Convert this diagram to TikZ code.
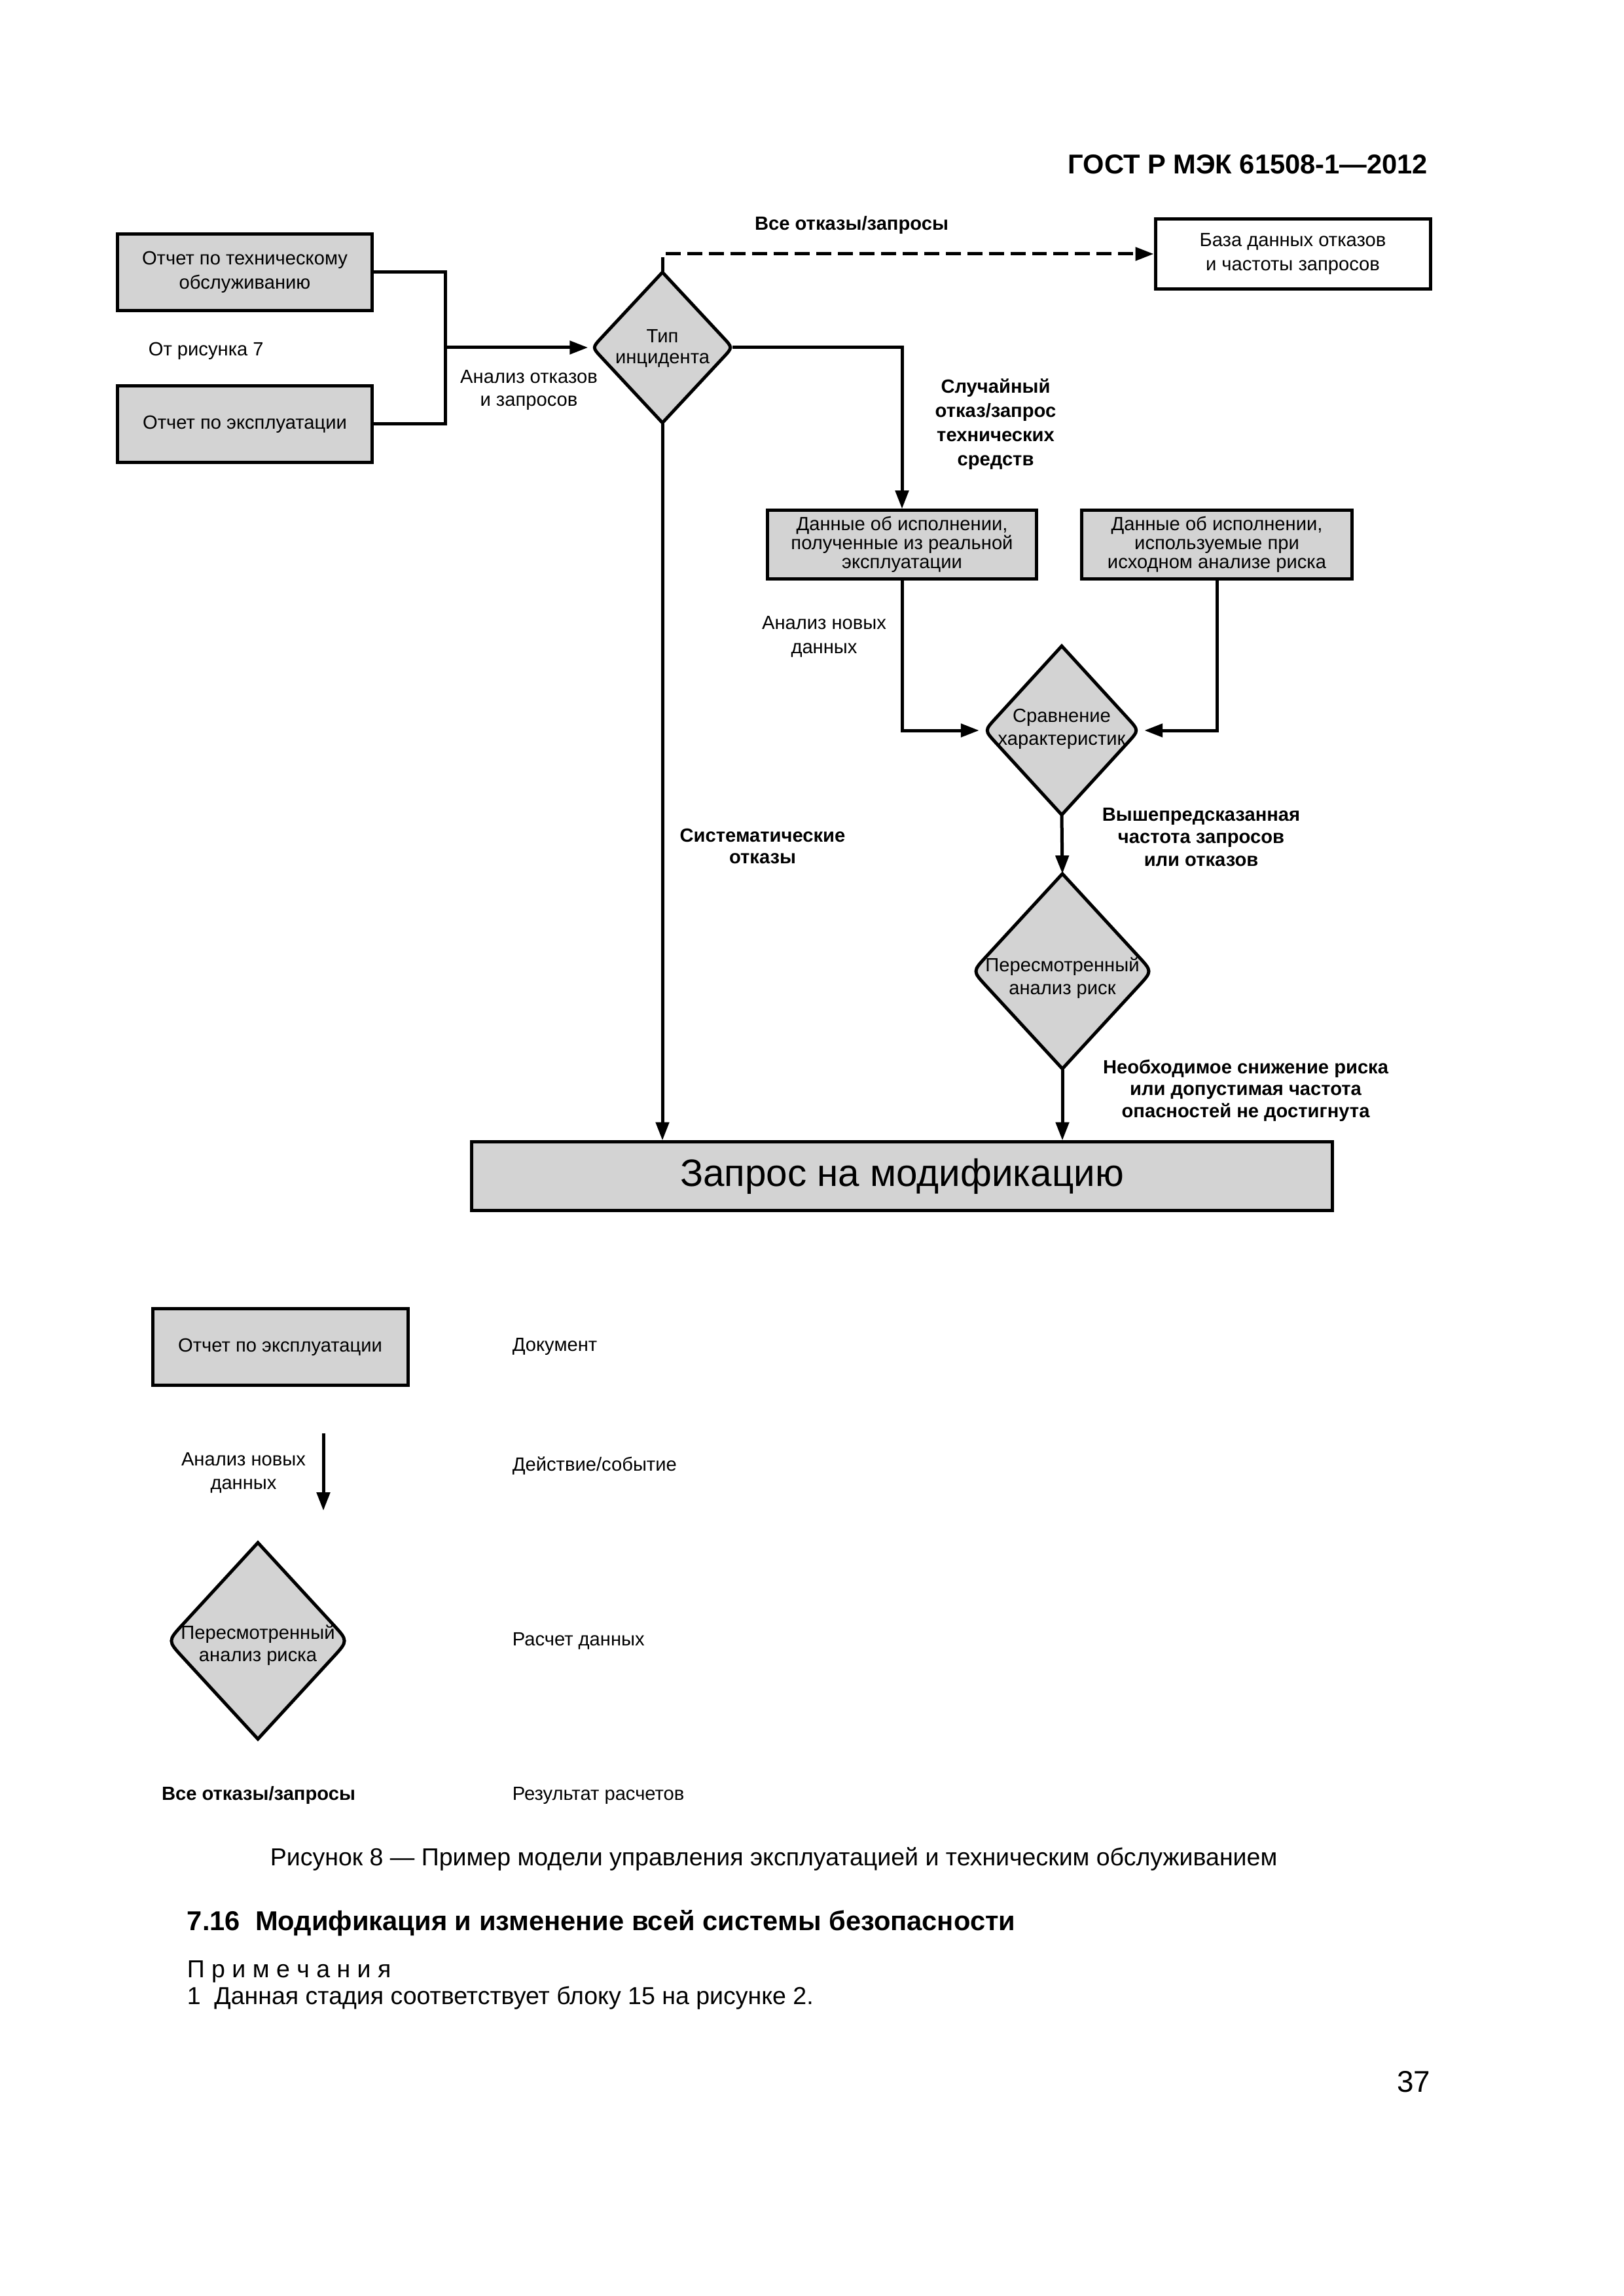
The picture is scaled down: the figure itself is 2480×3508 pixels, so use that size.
\documentclass[tikz,border=0pt]{standalone}
\usepackage{fontspec}
\setmainfont{Liberation Sans}
\usetikzlibrary{shapes}
\usetikzlibrary{positioning}
\usetikzlibrary{arrows.meta}
\usetikzlibrary{calc}
\definecolor{boxgray}{RGB}{211,211,211}
\tikzset{
    docbox/.style = {rectangle, draw=black, line width=1.2pt, fill=boxgray, align=center, inner sep=0pt, font=\fontsize{7}{8.9}\selectfont},
    dbbox/.style = {docbox, fill=white},
    dianode/.style = {diamond, inner sep=0pt, outer sep=0pt},
    diaborder/.style = {draw=black, line width=1.2pt, fill=boxgray},
    lbl/.style = {align=center, inner sep=0pt, font=\fontsize{7}{8.4}\selectfont},
    blbl/.style = {align=center, inner sep=0pt, font=\fontsize{7}{8.4}\selectfont\bfseries},
    edgen/.style = {-{Triangle[length=6.7pt,width=4.8pt]}, line width=1.2pt},
    edged/.style = {edgen, dash pattern=on 5.5pt off 2.4pt}, % all failures
    plainline/.style = {line width=1.2pt}
}
% diamond with rounded left and right corners
\newcommand{\roundia}[2]{%
  \draw[diaborder] (#1.north) -- ($(#1.east)!#2!(#1.north)$) .. controls (#1.east) .. ($(#1.east)!#2!(#1.south)$)
    -- (#1.south) -- ($(#1.west)!#2!(#1.south)$) .. controls (#1.west) .. ($(#1.west)!#2!(#1.north)$) -- cycle;}

\begin{document}
\begin{tikzpicture}[x=0.24pt, y=-0.24pt]
  \useasboundingbox (0,0) rectangle (2480,3508);

  \node[anchor=east, inner sep=0pt, font=\fontsize{10}{12}\selectfont\bfseries] (hdr) at (2182,251) {ГОСТ Р МЭК 61508-1—2012};

  % reports
  \node[docbox, minimum width=93.4pt, minimum height=28.3pt] (mr) at (374,416) {Отчет по техническому\\обслуживанию};
  \node[docbox, minimum width=93.4pt, minimum height=28.3pt] (or) at (374,648) {Отчет по эксплуатации};
  \node[lbl, anchor=west] (fig7) at (226,536) {От рисунка 7};
  \coordinate (jn) at (680,531);

  % incident type
  \node[dianode, minimum width=51.4pt, minimum height=55.2pt] (tip) at (1012,531) {};
  \roundia{tip}{4.8pt}
  \node[lbl, font=\fontsize{7}{7.7}\selectfont] (tipt) at (1012,532) {Тип\\инцидента};
  \node[lbl, font=\fontsize{7}{8.2}\selectfont] (afr) at (808,596) {Анализ отказов\\и запросов};

  % database
  \node[dbbox, minimum width=100.8pt, minimum height=25.9pt] (db) at (1975,388) {База данных отказов\\и частоты запросов};
  \coordinate (dbturn) at (1012,388);
  \node[blbl] (allf) at (1301,344) {Все отказы/запросы};

  % performance data
  \node[docbox, minimum width=98.6pt, minimum height=25pt, font=\fontsize{7}{6.9}\selectfont] (real) at (1378,832) {Данные об исполнении,\\полученные из реальной\\эксплуатации};
  \node[docbox, minimum width=99.1pt, minimum height=25pt, font=\fontsize{7}{6.9}\selectfont] (init) at (1859,832) {Данные об исполнении,\\используемые при\\исходном анализе риска};
  \node[blbl, font=\fontsize{7}{8.9}\selectfont\bfseries] (rnd) at (1521,648) {Случайный\\отказ/запрос\\технических\\средств};

  % comparison
  \node[dianode, minimum width=56.6pt, minimum height=61.9pt] (cmp) at (1622,1116) {};
  \roundia{cmp}{6pt}
  \node[lbl] (cmpt) at (1622,1114) {Сравнение\\характеристик};
  \node[lbl, font=\fontsize{7}{8.9}\selectfont] (newd) at (1259,973) {Анализ новых\\данных};
  \node[blbl, font=\fontsize{7}{8.2}\selectfont\bfseries] (over) at (1835,1279) {Вышепредсказанная\\частота запросов\\или отказов};

  % revised analysis
  \node[dianode, minimum width=65.8pt, minimum height=71.5pt] (rev) at (1623,1484) {};
  \roundia{rev}{7.2pt}
  \node[lbl] (revt) at (1623,1494) {Пересмотренный\\анализ риск};
  \node[blbl, font=\fontsize{7}{8}\selectfont\bfseries] (need) at (1903,1666) {Необходимое снижение риска\\или допустимая частота\\опасностей не достигнута};
  \node[blbl, font=\fontsize{7}{8}\selectfont\bfseries] (sys) at (1165,1293) {Систематические\\отказы};

  % modification request
  \node[docbox, minimum width=315.4pt, minimum height=25pt, font=\fontsize{14}{16}\selectfont] (mod) at (1378,1797) {Запрос на модификацию};

  % connectors
  \draw[plainline] (mr.east) -| (jn) |- (or.east);
  \draw[edgen, shorten >=1.6pt] (jn) -- (tip.west);
  \draw[edged] (tip.north) -- (dbturn) -- (db.west);
  \draw[edgen] (tip.east) -| (real.north);
  \draw[edgen, shorten >=2pt] (real.south) |- (cmp.west);
  \draw[edgen, shorten >=2pt] (init.south) |- (cmp.east);
  \draw[edgen] (cmp.south) -- (rev.north);
  \draw[edgen] (rev.south) -- (rev.south |- mod.north);
  \draw[edgen] (tip.south) -- (tip.south |- mod.north);

  % legend
  \node[docbox, minimum width=93.6pt, minimum height=28.1pt] (lbox) at (428,2058) {Отчет по эксплуатации};
  \node[lbl, anchor=west] (ldoc) at (782,2057) {Документ};
  \coordinate (la1) at (494,2190);
  \coordinate (la2) at (494,2308);
  \draw[edgen] (la1) -- (la2);
  \node[lbl, font=\fontsize{7}{8.6}\selectfont] (lnew) at (372,2250) {Анализ новых\\данных};
  \node[lbl, anchor=west] (lact) at (782,2240) {Действие/событие};
  \node[dianode, minimum width=66.2pt, minimum height=72pt] (ldia) at (394,2507) {};
  \roundia{ldia}{8.2pt}
  \node[lbl, font=\fontsize{7}{8.2}\selectfont] (ldiat) at (394,2514) {Пересмотренный\\анализ риска};
  \node[lbl, anchor=west] (lcalc) at (782,2507) {Расчет данных};
  \node[blbl] (lall) at (395,2743) {Все отказы/запросы};
  \node[lbl, anchor=west] (lres) at (782,2743) {Результат расчетов};

  % caption and text
  \node[inner sep=0pt, font=\fontsize{9}{11}\selectfont] (cap) at (1182,2840) {Рисунок 8 — Пример модели управления эксплуатацией и техническим обслуживанием};
  \node[anchor=west, inner sep=0pt, font=\fontsize{10}{12}\selectfont\bfseries] (sec) at (285,2938) {7.16\ \ Модификация и изменение всей системы безопасности};
  \node[anchor=west, inner sep=0pt, font=\fontsize{9}{11}\selectfont] (notes) at (285,3012) {П р и м е ч а н и я};
  \node[anchor=west, inner sep=0pt, font=\fontsize{9}{11}\selectfont] (note1) at (285,3053) {1\ \ Данная стадия соответствует блоку 15 на рисунке 2.};
  \node[anchor=east, inner sep=0pt, font=\fontsize{11}{13}\selectfont] (pg) at (2186,3181) {37};
\end{tikzpicture}
\end{document}
